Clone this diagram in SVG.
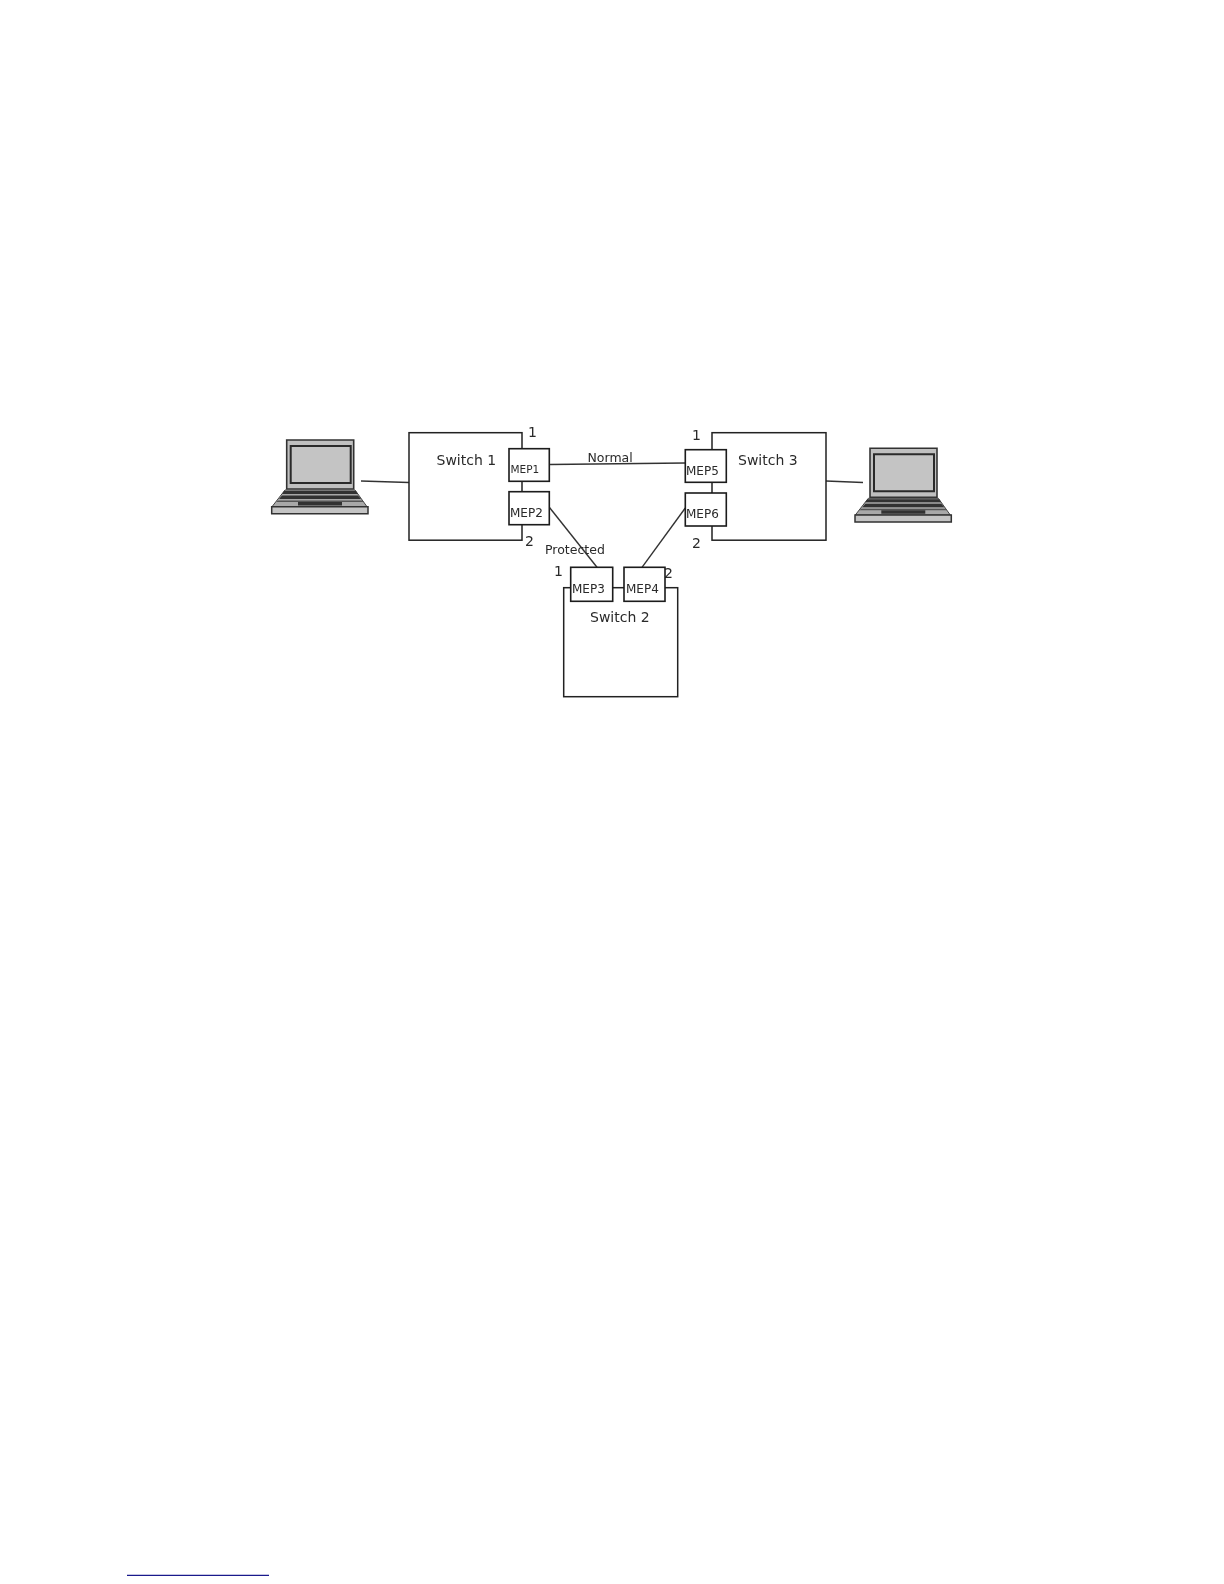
<svg xmlns="http://www.w3.org/2000/svg" xmlns:xlink="http://www.w3.org/1999/xlink" width="1224" height="1584" viewBox="0 0 1224 1584">
<style>
.box{fill:#fff;stroke:#222;stroke-width:1.5}
.mep{fill:#fff;stroke:#1a1a1a;stroke-width:1.6}
.line{fill:none;stroke:#333;stroke-width:1.4}
text{font-family:"DejaVu Sans",Verdana,sans-serif;fill:#2a2a2a}
.sw{font-size:14px}
.m{font-size:12px}
.n{font-size:14px}
.l{font-size:12.5px}
</style>
<defs>
<filter id="soft" x="-5%" y="-5%" width="110%" height="110%"><feGaussianBlur stdDeviation="0.35"/></filter>
<g id="laptop">
<path d="M286.7 440H353.7V489H286.7Z" fill="#c0c0c0" stroke="#333" stroke-width="1.6"/>
<path d="M290.7 446H350.7V483H290.7Z" fill="#c4c4c4" stroke="#2a2a2a" stroke-width="2"/>
<path d="M285 490H355L367 506.7H272Z" fill="#a8a8a8" stroke="#444" stroke-width="1"/>
<path d="M284 491H356L358 494H282ZM282 495.500H358L361 499H279Z" fill="#333"/>
<path d="M278 500.500H362L364 502H276Z" fill="#555"/>
<path d="M298 502H342V505.500H298Z" fill="#333"/>
<path d="M271.7 506.700H368V513.700H271.700Z" fill="#c4c4c4" stroke="#333" stroke-width="1.5"/>
</g>
</defs>
<g filter="url(#soft)">
<g id="connectors">
<path class="line" d="M361 481L409 482.500"/>
<path class="line" d="M826 481L863 482.500"/>
<path class="line" d="M549.500 464.500L685.300 463"/>
<path class="line" d="M549.500 507.500L597 567.300"/>
<path class="line" d="M685.300 508L642 567.300"/>
</g>
<g id="switch1">
<rect class="box" x="409" y="432.700" width="113" height="107.500"/>
<text class="sw" x="436.500" y="465">Switch 1</text>
<text class="n" x="528" y="436.500">1</text>
<text class="n" x="525" y="546">2</text>
</g>
<g id="switch3">
<rect class="box" x="712" y="432.700" width="114" height="107.500"/>
<text class="sw" x="738" y="465">Switch 3</text>
<text class="n" x="692" y="440">1</text>
<text class="n" x="692" y="548">2</text>
</g>
<g id="switch2">
<rect class="box" x="563.700" y="587.700" width="114" height="109"/>
<text class="sw" x="590" y="621.500">Switch 2</text>
<text class="n" x="554" y="576">1</text>
<text class="n" x="664" y="578">2</text>
</g>
<g id="mep1"><rect class="mep" x="509" y="448.700" width="40.300" height="32.600"/><text class="m" style="font-size:10.500px" x="510.500" y="473">MEP1</text></g>
<g id="mep2"><rect class="mep" x="509" y="491.700" width="40.300" height="33"/><text class="m" x="510" y="516.500">MEP2</text></g>
<g id="mep5"><rect class="mep" x="685.300" y="449.700" width="41" height="32.600"/><text class="m" x="686" y="475.300">MEP5</text></g>
<g id="mep6"><rect class="mep" x="685.300" y="493" width="41" height="33"/><text class="m" x="686" y="518.300">MEP6</text></g>
<g id="mep3"><rect class="mep" x="570.700" y="567.300" width="42" height="34"/><text class="m" x="572" y="593.300">MEP3</text></g>
<g id="mep4"><rect class="mep" x="624" y="567.300" width="41" height="34"/><text class="m" x="626" y="593.300">MEP4</text></g>
<g id="labels">
<text class="l" x="587.500" y="461.500">Normal</text>
<text class="l" x="545" y="554">Protected</text>
</g>
<g id="laptop1"><use xlink:href="#laptop" href="#laptop"/></g>
<g id="laptop2"><use xlink:href="#laptop" href="#laptop" x="583.300" y="8.300"/></g>
</g>
<path id="footnote-rule" d="M127 1575.300H269" stroke="#1a1a8c" stroke-width="1.200" fill="none"/>
</svg>
